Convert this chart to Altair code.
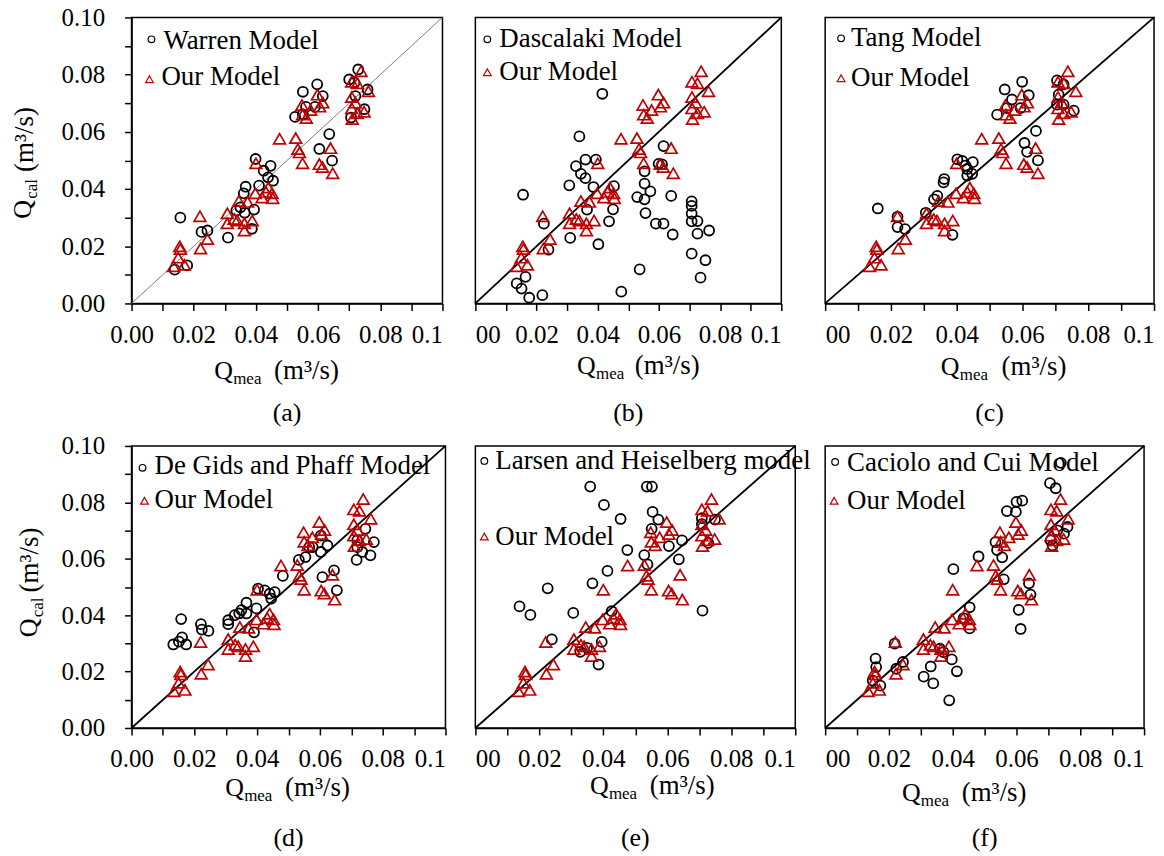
import altair as alt
import pandas as pd

FONT = "Liberation Serif"
RED = "#C00000"

# ---- shared data: measured flow rate and "Our Model" prediction ----
our_mea = [0.0135, 0.0155, 0.0157, 0.0150, 0.0170, 0.0220, 0.0222, 0.0244, 0.0308, 0.0308,
           0.0330, 0.0340, 0.0345, 0.0363, 0.0363, 0.0373, 0.0388, 0.0400, 0.0398, 0.0420,
           0.0432, 0.0440, 0.0452, 0.0454, 0.0476, 0.0528, 0.0535, 0.0540, 0.0550, 0.0548,
           0.0550, 0.0562, 0.0576, 0.0598, 0.0615, 0.0605, 0.0604, 0.0614, 0.0640, 0.0647,
           0.0708, 0.0726, 0.0738, 0.0762, 0.0708, 0.0720, 0.0708, 0.0748, 0.0710, 0.0726]
our_cal = [0.0130, 0.0200, 0.0190, 0.0160, 0.0135, 0.0305, 0.0192, 0.0225, 0.0315, 0.0280,
           0.0295, 0.0290, 0.0358, 0.0280, 0.0255, 0.0355, 0.0290, 0.0490, 0.0385, 0.0370,
           0.0390, 0.0405, 0.0385, 0.0368, 0.0576, 0.0578, 0.0540, 0.0528, 0.0490, 0.0694,
           0.0660, 0.0648, 0.0676, 0.0730, 0.0702, 0.0688, 0.0487, 0.0477, 0.0543, 0.0455,
           0.0775, 0.0770, 0.0812, 0.0742, 0.0722, 0.0702, 0.0682, 0.0670, 0.0645, 0.0665]

# ---- (a) Warren model ----
warren_mea = [0.0139, 0.0157, 0.0179, 0.0225, 0.0244, 0.0310, 0.0337, 0.0350, 0.0364, 0.0361,
              0.0367, 0.0394, 0.0387, 0.0399, 0.0410, 0.0425, 0.0447, 0.0455, 0.0439, 0.0526,
              0.0551, 0.0551, 0.0561, 0.0597, 0.0590, 0.0615, 0.0604, 0.0636, 0.0645, 0.0700,
              0.0706, 0.0717, 0.0720, 0.0749, 0.0759, 0.0729]
warren_cal = [0.0118, 0.0300, 0.0133, 0.0250, 0.0255, 0.0230, 0.0325, 0.0336, 0.0317, 0.0385,
              0.0408, 0.0328, 0.0261, 0.0505, 0.0412, 0.0464, 0.0481, 0.0429, 0.0441, 0.0652,
              0.0740, 0.0661, 0.0687, 0.0766, 0.0687, 0.0725, 0.0540, 0.0592, 0.0499, 0.0783,
              0.0650, 0.0772, 0.0725, 0.0679, 0.0748, 0.0818]

# ---- (b) Dascalaki model ----
dasc_mea = [0.0415, 0.0340, 0.0329, 0.0345, 0.0360, 0.0360, 0.0394, 0.0386, 0.0307, 0.0156,
            0.0453, 0.0450, 0.0437, 0.0365, 0.0310, 0.0402, 0.0224, 0.0239, 0.0164, 0.0135,
            0.0151, 0.0176, 0.0219, 0.0477, 0.0537, 0.0529, 0.0553, 0.0553, 0.0553, 0.0556,
            0.0572, 0.0590, 0.0615, 0.0599, 0.0610, 0.0615, 0.0640, 0.0645, 0.0707, 0.0707,
            0.0707, 0.0707, 0.0726, 0.0726, 0.0707, 0.0752, 0.0736, 0.0764]
dasc_cal = [0.0733, 0.0584, 0.0480, 0.0453, 0.0503, 0.0438, 0.0503, 0.0407, 0.0413, 0.0380,
            0.0410, 0.0329, 0.0287, 0.0328, 0.0229, 0.0207, 0.0279, 0.0188, 0.0093, 0.0070,
            0.0052, 0.0020, 0.0029, 0.0041, 0.0119, 0.0372, 0.0419, 0.0462, 0.0364, 0.0316,
            0.0392, 0.0279, 0.0279, 0.0488, 0.0486, 0.0550, 0.0376, 0.0241, 0.0357, 0.0341,
            0.0314, 0.0287, 0.0288, 0.0244, 0.0174, 0.0151, 0.0090, 0.0255]

# ---- (c) Tang model ----
tang_mea = [0.0160, 0.0220, 0.0220, 0.0243, 0.0306, 0.0331, 0.0341, 0.0360, 0.0362, 0.0387,
            0.0402, 0.0417, 0.0427, 0.0432, 0.0449, 0.0447, 0.0432, 0.0523, 0.0546, 0.0568,
            0.0553, 0.0599, 0.0619, 0.0594, 0.0641, 0.0606, 0.0614, 0.0647, 0.0705, 0.0725,
            0.0710, 0.0725, 0.0756, 0.0705]
tang_cal = [0.0332, 0.0303, 0.0267, 0.0260, 0.0317, 0.0364, 0.0376, 0.0423, 0.0435, 0.0240,
            0.0504, 0.0498, 0.0482, 0.0470, 0.0494, 0.0453, 0.0447, 0.0660, 0.0748, 0.0713,
            0.0683, 0.0775, 0.0728, 0.0683, 0.0603, 0.0561, 0.0530, 0.0500, 0.0780, 0.0766,
            0.0730, 0.0695, 0.0674, 0.0695]

# ---- (d) De Gids and Phaff model ----
gids_mea = [0.0133, 0.0151, 0.0161, 0.0174, 0.0158, 0.0221, 0.0224, 0.0245, 0.0308, 0.0308,
            0.0329, 0.0343, 0.0350, 0.0366, 0.0366, 0.0398, 0.0390, 0.0403, 0.0424, 0.0440,
            0.0445, 0.0456, 0.0482, 0.0533, 0.0554, 0.0566, 0.0577, 0.0603, 0.0603, 0.0624,
            0.0608, 0.0645, 0.0654, 0.0717, 0.0719, 0.0735, 0.0745, 0.0761, 0.0772, 0.0719]
gids_cal = [0.0296, 0.0306, 0.0321, 0.0296, 0.0386, 0.0368, 0.0349, 0.0344, 0.0382, 0.0368,
            0.0400, 0.0406, 0.0418, 0.0444, 0.0406, 0.0424, 0.0339, 0.0494, 0.0488, 0.0476,
            0.0459, 0.0482, 0.0539, 0.0596, 0.0606, 0.0641, 0.0641, 0.0682, 0.0624, 0.0647,
            0.0535, 0.0559, 0.0488, 0.0596, 0.0665, 0.0624, 0.0706, 0.0612, 0.0659, 0.0641]

# ---- (e) Larsen and Heiselberg model ----
lars_mea = [0.0359, 0.0536, 0.0552, 0.0402, 0.0454, 0.0554, 0.0572, 0.0551, 0.0605, 0.0646,
            0.0636, 0.0475, 0.0528, 0.0538, 0.0413, 0.0366, 0.0226, 0.0138, 0.0172, 0.0306,
            0.0426, 0.0239, 0.0395, 0.0328, 0.0349, 0.0385, 0.0710, 0.0708, 0.0728, 0.0749,
            0.0708]
lars_cal = [0.0856, 0.0856, 0.0856, 0.0791, 0.0741, 0.0766, 0.0739, 0.0706, 0.0645, 0.0665,
            0.0598, 0.0631, 0.0613, 0.0580, 0.0557, 0.0513, 0.0495, 0.0431, 0.0401, 0.0408,
            0.0414, 0.0314, 0.0305, 0.0270, 0.0284, 0.0225, 0.0416, 0.0723, 0.0656, 0.0739,
            0.0744]

# ---- (f) Caciolo and Cui model ----
cac_mea = [0.0739, 0.0705, 0.0723, 0.0600, 0.0618, 0.0570, 0.0598, 0.0534, 0.0539, 0.0555,
           0.0560, 0.0481, 0.0402, 0.0639, 0.0644, 0.0607, 0.0613, 0.0453, 0.0453, 0.0434,
           0.0360, 0.0371, 0.0397, 0.0413, 0.0331, 0.0339, 0.0309, 0.0389, 0.0218, 0.0158,
           0.0160, 0.0149, 0.0173, 0.0244, 0.0223, 0.0707, 0.0713, 0.0749, 0.0760, 0.0728]
cac_cal = [0.0940, 0.0868, 0.0850, 0.0802, 0.0806, 0.0769, 0.0766, 0.0659, 0.0631, 0.0605,
           0.0527, 0.0608, 0.0563, 0.0513, 0.0473, 0.0419, 0.0351, 0.0353, 0.0428, 0.0389,
           0.0281, 0.0269, 0.0243, 0.0201, 0.0218, 0.0158, 0.0182, 0.0098, 0.0299, 0.0246,
           0.0216, 0.0168, 0.0150, 0.0234, 0.0210, 0.0665, 0.0647, 0.0689, 0.0713, 0.0701]

diag_vals = [0.0, 0.1]
tick_vals = [0.0, 0.01, 0.02, 0.03, 0.04, 0.05, 0.06, 0.07, 0.08, 0.09, 0.1]

one = pd.DataFrame({"k": [0]})

LEG_FS = 27
TITLE_FS = 26


def x_lab_expr(first_short):
    first = "'00'" if first_short else "'0.00'"
    return ("datum.value < 0.005 ? " + first + " : (datum.value > 0.095 ? '0.1' : "
            "(round(datum.value * 100) % 2 == 0 ? format(datum.value, '.2f') : ''))")


Y_LAB_EXPR = "round(datum.value * 100) % 2 == 0 ? format(datum.value, '.2f') : ''"


def txt(s, x, y, size, angle=0):
    kw = dict(align="left", baseline="alphabetic", font=FONT, fontSize=size, color="black")
    if angle:
        kw["angle"] = angle
    return alt.Chart(one).mark_text(**kw).encode(
        x=alt.value(x), y=alt.value(y), text=alt.value(s))


def ctxt(s, x, y, size):
    return alt.Chart(one).mark_text(align="center", baseline="middle", font=FONT,
                                    fontSize=size, color="black").encode(
        x=alt.value(x), y=alt.value(y), text=alt.value(s))


def sym(shape, x, y, color, size):
    return alt.Chart(one).mark_point(shape=shape, filled=False, color=color, size=size,
                                     strokeWidth=1.2, opacity=1).encode(
        x=alt.value(x), y=alt.value(y))


def panel(cx, cy, leg_label, w, h, show_y, first_short, diag_color, diag_w,
          leg, xt, yt, letter):
    scale = alt.Scale(domain=[0, 0.1], nice=False, zero=False)
    first_align = "left" if first_short else "center"
    xaxis = alt.Axis(values=tick_vals, labelExpr=x_lab_expr(first_short), title=None,
                     labelOverlap=False, labelFlush=False,
                     labelAlign={"condition": [
                         {"test": "datum.value > 0.095", "value": "right"},
                         {"test": "datum.value < 0.005", "value": first_align}],
                         "value": "center"})
    if show_y:
        yaxis = alt.Axis(values=tick_vals, labelExpr=Y_LAB_EXPR, title=None,
                         labelOverlap=False)
    else:
        yaxis = None

    def enc(ch):
        return ch.encode(x=alt.X("x:Q", scale=scale, axis=xaxis),
                         y=alt.Y("y:Q", scale=scale, axis=yaxis))

    diag = enc(alt.Chart(pd.DataFrame({"x": diag_vals, "y": diag_vals}))
               .mark_line(color=diag_color, strokeWidth=diag_w))
    circ = enc(alt.Chart(pd.DataFrame({"x": cx, "y": cy}))
               .mark_point(shape="circle", filled=False, color="black", size=100,
                           strokeWidth=1.8, opacity=1))
    tri = enc(alt.Chart(pd.DataFrame({"x": our_mea, "y": our_cal}))
              .mark_point(shape="triangle-up", filled=False, color=RED, size=140,
                          strokeWidth=1.7, opacity=1))
    layers = [diag, circ, tri]
    (c_sx, c_sy, c_tx, c_ty, t_sx, t_sy, t_tx, t_ty) = leg
    layers += [sym("circle", c_sx, c_sy, "black", 45), txt(leg_label, c_tx, c_ty, LEG_FS),
               sym("triangle-up", t_sx, t_sy, RED, 60), txt("Our Model", t_tx, t_ty, LEG_FS)]
    qx, mx, ux, dy = xt
    base = h + dy
    layers += [txt("Q", qx, base, TITLE_FS), txt("mea", mx, base + 5, 17),
               txt("(m³/s)", ux, base, 27)]
    if yt is not None:
        (qyx, qyy, cyx, cyy, uyx, uyy) = yt
        layers += [txt("Q", qyx, qyy, TITLE_FS, 270), txt("cal", cyx, cyy, 17, 270),
                   txt("(m³/s)", uyx, uyy, 27, 270)]
    layers.append(ctxt(letter, w / 2, h + 110, 26))
    return alt.layer(*layers).properties(width=w, height=h)


pa = panel(warren_mea, warren_cal, "Warren Model", 312, 287, True, False, "#808080", 1.0,
           (20, 22, 32, 32, 18, 62, 30, 68), (83, 102, 143, 76),
           (-101, 202, -95, 182, -99, 155), "(a)")
pb = panel(dasc_mea, dasc_cal, "Dascalaki Model", 307, 287, False, True, "black", 1.8,
           (12, 22, 24, 30, 12, 55, 24, 63), (102, 121, 160, 71), None, "(b)")
pc = panel(tang_mea, tang_cal, "Tang Model", 330, 287, False, True, "black", 1.8,
           (16, 21, 26, 29, 16, 61, 26, 69), (116, 135, 177, 72), None, "(c)")
pd_ = panel(gids_mea, gids_cal, "De Gids and Phaff Model", 315, 283, True, False, "black", 1.8,
            (11, 22, 23, 28, 13, 55, 23, 62), (94, 113, 154, 68),
            (-95, 192, -89, 172, -94, 147), "(d)")
pe = panel(lars_mea, lars_cal, "Larsen and Heiselberg model", 321, 283, False, True, "black", 1.8,
           (9, 15, 20, 23, 9, 91, 20, 99), (115, 134, 175, 66), None, "(e)")
pf = panel(cac_mea, cac_cal, "Caciolo and Cui Model", 320, 283, False, True, "black", 1.8,
           (10, 16, 22, 25, 9, 55, 22, 63), (77, 96, 137, 73), None, "(f)")

chart = (alt.concat(pa, pb, pc, pd_, pe, pf, columns=3, align="none", bounds="flush",
                    spacing={"row": 143, "column": 30})
         .properties(padding={"left": 9, "top": 3, "right": 5, "bottom": 5},
                     background="white")
         .configure_view(stroke="black", strokeWidth=1.5)
         .configure_axis(labelFont=FONT, labelFontSize=25, labelColor="black",
                         tickColor="black", domainColor="black", tickWidth=1.5,
                         domainWidth=1.5, tickSize=7, grid=False)
         .configure_axisX(labelPadding=12)
         .configure_axisY(labelPadding=20))

chart.save("out.html", embed_options={"renderer": "svg", "actions": False})
